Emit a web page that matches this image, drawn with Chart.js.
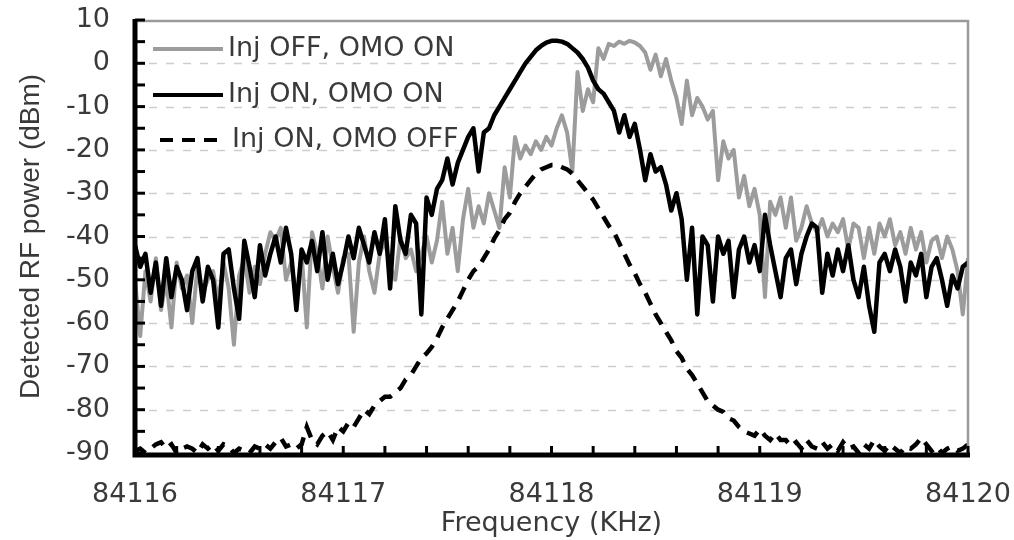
<!DOCTYPE html>
<html>
<head>
<meta charset="utf-8">
<script src="https://cdn.jsdelivr.net/npm/chart.js@4.4.1/dist/chart.umd.min.js"></script>
<style>
  html, body { margin: 0; padding: 0; background: #fff; }
  #wrap { width: 1014px; height: 540px; }
</style>
</head>
<body>
<div id="wrap"><canvas id="rfChart" width="1014" height="540"></canvas></div>
<script>
// sweep: 84116 .. 84120 kHz, one reading every 0.025 kHz (161 readings)
const FREQ_START = 84116;
const FREQ_STEP = 0.025;
const N_POINTS = 161;

const seriesNames = ["Inj OFF, OMO ON", "Inj ON, OMO ON", "Inj ON, OMO OFF"];

const yTicks = [10, 0, -10, -20, -30, -40, -50, -60, -70, -80, -90];
const xTicks = [84116, 84117, 84118, 84119, 84120];

// grey trace - injection off
const injOffOmoOn = [
  -50, -63, -48, -55, -45, -57, -50, -61, -46, -52,
  -49, -60, -47, -53, -50, -48, -55, -46, -52, -65,
  -49, -45, -53, -47, -51, -44, -39, -41, -38, -50,
  -46, -54, -44, -61, -39, -44, -52, -40, -47, -53,
  -45, -44, -62, -46, -40, -48, -53, -44, -41, -47,
  -50, -40, -45, -43, -48, -44, -40, -46, -41, -32,
  -44, -38, -48, -36, -29, -38, -33, -37, -30, -34,
  -38, -24, -31, -17, -22, -19, -21, -18, -20, -17,
  -19, -15, -12, -16, -25, -2, -11, -6, -9, 3.5,
  1, 4.5, 4, 5, 4.5, 5.2, 4.8, 4, 2.5, -1.5,
  2, -3, 1, -4, -8, -14, -4, -12, -8, -10,
  -13, -11, -27, -18, -22, -20, -31, -26, -33, -29,
  -35, -54, -32, -35, -31, -38, -31, -41, -38, -33,
  -37, -39, -36, -40, -37, -39, -36, -43, -37, -38,
  -45, -38, -44, -37, -40, -36, -42, -39, -44, -38,
  -43, -39, -46, -41, -40, -45, -40, -43, -48, -58,
  -45
];

// black trace - injection on
const injOnOmoOn = [
  -42, -47, -44, -53, -46, -56, -45, -54, -47, -50,
  -57, -48, -45, -55, -47, -50, -61, -44, -43, -52,
  -59, -41, -47, -54, -42, -49, -44, -40, -46, -38,
  -44, -57, -43, -46, -41, -48, -39, -50, -44, -51,
  -46, -40, -45, -38, -42, -46, -39, -44, -36, -52,
  -33, -41, -44, -35, -37, -58, -31, -35, -29, -27,
  -22, -28, -23, -20, -17, -15, -25, -16, -15, -12,
  -10, -8, -6, -4, -2, 0, 1.5, 3, 4, 4.8,
  5.2, 5.2, 5, 4.5, 3.5, 2.5, 1, -1, -4, -6,
  -7, -9, -11, -16, -12, -17, -14, -20, -27, -21,
  -25, -24, -28, -34, -30, -36, -50, -38, -58, -40,
  -42, -55, -40, -44, -41, -54, -43, -40, -46, -42,
  -48, -35, -42, -48, -54, -45, -43, -51, -44, -40,
  -37, -38, -53, -44, -49, -43, -48, -42, -50, -54,
  -47, -56, -62, -46, -44, -48, -43, -47, -55, -46,
  -49, -44, -54, -47, -45, -50, -56, -49, -52, -47,
  -46
];

// dashed trace - modulation off
const injOnOmoOff = [
  -89.5, -89, -90, -89, -88, -87.5, -89, -88, -90, -89,
  -88.5, -89, -90, -88, -89, -88, -89.5, -88, -88.5, -90,
  -89, -89.5, -90, -88.5, -89, -88, -89, -87.5, -86.5, -88.5,
  -88, -89, -88, -84, -87, -88, -86, -85, -87, -84,
  -85, -83, -84, -82, -80, -81, -79, -78, -77, -77,
  -76, -75, -73, -72, -70, -68, -67, -65.5, -63.5, -61,
  -59, -57, -55, -52.5, -50, -48, -47, -45, -43, -40.5,
  -38.5, -36, -34.5, -32, -30, -28.5, -27, -25.5, -24.5, -24,
  -23.5, -23.5, -24, -24.5, -25.5, -27, -28.5, -30, -31.5, -33.5,
  -35.5, -37.5, -39, -41.5, -44, -46.5, -48.5, -51, -53, -55.5,
  -58, -60, -62, -64, -66.5, -68, -70.5, -72, -74, -76,
  -78, -79, -80, -80.5, -82, -82.5, -84, -85, -85.5, -86,
  -84.5, -86, -87, -85.5, -87, -87, -88.5, -87.5, -89, -87,
  -88.5, -89, -87.5, -89, -88, -89.5, -87.5, -89, -88.5, -90,
  -88, -89, -87, -88.5, -89.5, -88, -89, -90, -88.5, -89,
  -88, -86.5, -88, -89.5, -88.5, -90, -89, -88.5, -89.5, -89,
  -88
];

const freqs = [];
for (let i = 0; i < N_POINTS; i++) freqs.push(+(FREQ_START + i * FREQ_STEP).toFixed(3));

const TEXT_COLOR = "#3a3a3a";
const GREY_LINE = "#9c9c9c";

function toPoints(vals) {
  return vals.map((v, i) => ({ x: freqs[i], y: v }));
}

// dashed grid, frame, black axes with inward ticks, legend
const framePlugin = {
  id: "framePlugin",
  beforeDatasetsDraw(chart) {
    const { ctx, chartArea: a, scales: { y } } = chart;
    ctx.save();
    ctx.strokeStyle = "#cdcdcd";
    ctx.lineWidth = 1.5;
    ctx.setLineDash([8, 9]);
    yTicks.filter(v => v !== 10 && v !== -90).forEach(v => {
      const py = Math.round(y.getPixelForValue(v)) + 0.5;
      ctx.beginPath();
      ctx.moveTo(a.left + 14, py);
      ctx.lineTo(a.right - 10, py);
      ctx.stroke();
    });
    ctx.restore();
  },
  afterDatasetsDraw(chart) {
    const { ctx, chartArea: a, scales: { x, y } } = chart;
    ctx.save();
    // top + right frame in grey
    ctx.strokeStyle = "#9a9a9a";
    ctx.lineWidth = 2.5;
    ctx.beginPath();
    ctx.moveTo(a.left, a.top + 1);
    ctx.lineTo(a.right, a.top + 1);
    ctx.lineTo(a.right, a.bottom);
    ctx.stroke();

    // black axes
    ctx.strokeStyle = "#000";
    ctx.lineWidth = 5;
    ctx.beginPath();
    ctx.moveTo(a.left, a.top - 1);
    ctx.lineTo(a.left, a.bottom + 2);
    ctx.lineTo(a.right + 2, a.bottom + 2);
    ctx.stroke();

    // minor ticks, pointing into the plot
    ctx.lineWidth = 3;
    for (let v = 10; v >= -90; v -= 5) {
      const py = y.getPixelForValue(v);
      ctx.beginPath();
      ctx.moveTo(a.left, py);
      ctx.lineTo(a.left + 10, py);
      ctx.stroke();
    }
    for (let k = 0; k <= 20; k++) {
      const px = x.getPixelForValue(FREQ_START + k * 0.2);
      ctx.beginPath();
      ctx.moveTo(px, a.bottom + 2);
      ctx.lineTo(px, a.bottom - 7);
      ctx.stroke();
    }
    ctx.restore();
  },
  afterDraw(chart) {
    const { ctx } = chart;
    const rows = [49, 95, 140];
    ctx.save();
    ctx.font = "27px 'DejaVu Sans'";
    ctx.fillStyle = TEXT_COLOR;
    ctx.textBaseline = "middle";
    chart.data.datasets.forEach((ds, i) => {
      const yy = rows[i];
      ctx.strokeStyle = ds.borderColor;
      ctx.lineWidth = 4;
      ctx.lineCap = "butt";
      ctx.setLineDash(ds.borderDash || []);
      ctx.beginPath();
      if (ds.borderDash) {
        ctx.moveTo(160, yy);
        ctx.lineTo(226, yy);
      } else {
        ctx.moveTo(153, yy);
        ctx.lineTo(223, yy);
      }
      ctx.stroke();
      ctx.fillText(ds.label, ds.borderDash ? 232 : 228, yy);
    });
    ctx.restore();
  }
};

const chart = new Chart(document.getElementById("rfChart"), {
  type: "line",
  data: {
    datasets: [
      {
        label: seriesNames[0],
        data: toPoints(injOffOmoOn),
        borderColor: GREY_LINE,
        borderWidth: 4,
        borderJoinStyle: "round",
        order: 3
      },
      {
        label: seriesNames[1],
        data: toPoints(injOnOmoOn),
        borderColor: "#000000",
        borderWidth: 4.5,
        borderJoinStyle: "round",
        order: 2
      },
      {
        label: seriesNames[2],
        data: toPoints(injOnOmoOff),
        borderColor: "#000000",
        borderWidth: 4.5,
        borderDash: [13, 9],
        order: 1
      }
    ]
  },
  options: {
    responsive: false,
    animation: false,
    events: [],
    layout: { padding: 0 },
    elements: { point: { radius: 0 }, line: { tension: 0 } },
    plugins: { legend: { display: false }, tooltip: { enabled: false } },
    scales: {
      x: {
        type: "linear",
        min: 84116,
        max: 84120,
        afterFit: s => { s.height = 87; s.paddingLeft = 0; s.paddingRight = 46; },
        afterBuildTicks: s => { s.ticks = xTicks.map(v => ({ value: v })); },
        grid: { display: false, drawTicks: false },
        border: { display: false },
        ticks: {
          padding: 26,
          color: TEXT_COLOR,
          font: { family: "DejaVu Sans", size: 27 },
          maxRotation: 0,
          callback: v => String(v)
        },
        title: {
          display: true,
          text: "Frequency (KHz)",
          color: TEXT_COLOR,
          font: { family: "DejaVu Sans", size: 27 },
          padding: { top: 0, bottom: 0 }
        }
      },
      y: {
        min: -90,
        max: 10,
        afterFit: s => { s.width = 135; s.paddingTop = 20; s.paddingBottom = 0; },
        afterBuildTicks: s => { s.ticks = yTicks.map(v => ({ value: v })); },
        grid: { display: false, drawTicks: false },
        border: { display: false },
        ticks: {
          padding: 25,
          color: TEXT_COLOR,
          font: { family: "DejaVu Sans", size: 27 },
          callback: v => String(v)
        },
        title: {
          display: true,
          text: "Detected RF power (dBm)",
          color: TEXT_COLOR,
          font: { family: "Liberation Sans", size: 28 },
          padding: { top: 14, bottom: 0 }
        }
      }
    }
  },
  plugins: [framePlugin]
});
</script>
</body>
</html>
